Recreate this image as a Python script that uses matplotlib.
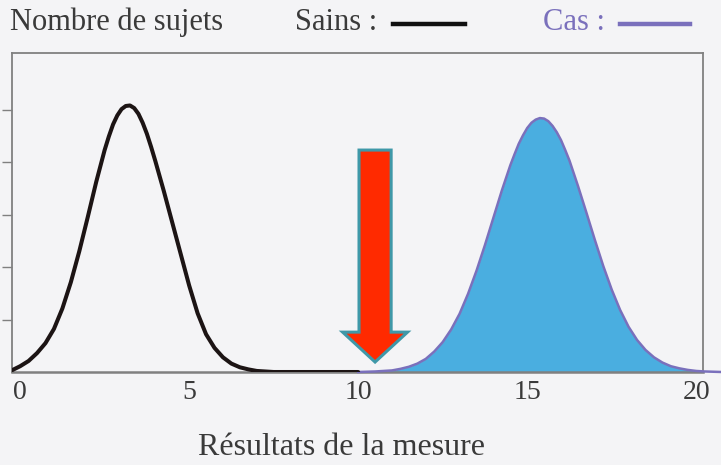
import matplotlib
matplotlib.use("Agg")
import matplotlib.pyplot as plt
from matplotlib.lines import Line2D
from matplotlib.patches import FancyArrow

# healthy subjects ("Sains") curve
sains_x = [-0.25, 0.0, 0.25, 0.5, 0.75, 1.0, 1.25, 1.5, 1.75, 2.0, 2.25, 2.5, 2.625, 2.75,
           2.875, 3.0, 3.125, 3.25, 3.375, 3.5, 3.625, 3.75, 3.875, 4.0, 4.25, 4.5, 4.75,
           5.0, 5.25, 5.5, 5.75, 6.0, 6.25, 6.5, 6.75, 7.0, 7.5, 10.0]
sains_y = [0.03, 0.11, 0.21, 0.36, 0.55, 0.82, 1.21, 1.71, 2.30, 2.95, 3.62, 4.23, 4.49, 4.72,
           4.89, 5.01, 5.07, 5.08, 5.03, 4.92, 4.75, 4.54, 4.29, 4.02, 3.45, 2.85, 2.25,
           1.65, 1.12, 0.72, 0.46, 0.28, 0.16, 0.09, 0.05, 0.02, 0.0, 0.0]

# cases ("Cas") curve
cas_x = [10.0, 10.5, 11.0, 11.25, 11.5, 11.75, 12.0, 12.25, 12.5, 12.75, 13.0, 13.25,
         13.5, 13.75, 14.0, 14.25, 14.5, 14.625, 14.75, 14.875, 15.0, 15.125, 15.25,
         15.375, 15.5, 15.625, 15.75, 15.875, 16.0, 16.125, 16.25,
         16.5, 16.75, 17.0, 17.25, 17.5, 17.75, 18.0, 18.25, 18.5, 18.75, 19.0, 19.25,
         19.5, 19.75, 20.0, 20.25, 20.75]
cas_y = [0.0, 0.01, 0.03, 0.06, 0.10, 0.16, 0.25, 0.39, 0.57, 0.81, 1.11, 1.49,
         1.93, 2.42, 2.94, 3.46, 3.94, 4.15, 4.35, 4.51, 4.65, 4.75, 4.81,
         4.84, 4.83, 4.78, 4.69, 4.57, 4.42, 4.23, 4.03,
         3.55, 3.04, 2.52, 2.02, 1.57, 1.18, 0.86, 0.61, 0.42, 0.28, 0.18, 0.11,
         0.07, 0.04, 0.02, 0.01, 0.0]

x_ticks = [0, 5, 10, 15, 20]
y_ticks = [1, 2, 3, 4, 5]
seuil = 10.5  # threshold marked by the arrow

bg = "#f4f4f6"
grey = "#808080"
txt = "#3a3a3a"
purple = "#7a70bc"
serif = ["Liberation Serif", "DejaVu Serif"]

fig = plt.figure(figsize=(7.21, 4.65), dpi=100, facecolor=bg)
ax = fig.add_axes([12 / 721, 93 / 465, 691 / 721, 319 / 465], facecolor=bg)
ax.set_xlim(-0.24, 20.2)
ax.set_ylim(0, 6.08)

ax.fill_between(cas_x, cas_y, 0, color="#4aaee0", lw=0, zorder=2)
ax.plot(cas_x, cas_y, color=purple, lw=1.8, zorder=3, clip_on=False,
        solid_joinstyle="round")
ax.plot(sains_x, sains_y, color="#1c1414", lw=2.9, zorder=4,
        solid_capstyle="round", solid_joinstyle="round")

arr = FancyArrow(seuil, 4.23, 0, -4.04, width=0.95, head_width=1.92, head_length=0.57,
                 length_includes_head=True, facecolor="#ff2a00", edgecolor="#3f98a8",
                 lw=2.2, zorder=6)
ax.add_patch(arr)

for s in ax.spines.values():
    s.set_color(grey)
    s.set_linewidth(1.3)
ax.spines["bottom"].set_linewidth(1.8)

ax.set_xticks(x_ticks)
ax.set_xticklabels([str(t) for t in x_ticks], family=serif, fontsize=20, color=txt)
ax.tick_params(axis="x", length=0, pad=6)
ax.set_yticks(y_ticks)
ax.set_yticklabels([])
ax.tick_params(axis="y", direction="out", length=7, color=grey, width=1)

fig.text(341 / 721, 1 - 447 / 465, "Résultats de la mesure", family=serif,
         fontsize=23, color=txt, ha="center", va="center")

# header with legend
hy = 1 - 22 / 465
fig.text(10 / 721, hy, "Nombre de sujets", family=serif, fontsize=22, color=txt,
         ha="left", va="center")
fig.text(295 / 721, hy, "Sains :", family=serif, fontsize=22, color=txt,
         ha="left", va="center")
fig.add_artist(Line2D([393 / 721, 465 / 721], [1 - 24 / 465] * 2, color="#111111",
                      lw=3.2, transform=fig.transFigure))
fig.text(543 / 721, hy, "Cas :", family=serif, fontsize=22, color=purple,
         ha="left", va="center")
fig.add_artist(Line2D([620 / 721, 690 / 721], [1 - 24 / 465] * 2, color=purple,
                      lw=3.2, transform=fig.transFigure))

fig.savefig("out.png", dpi=100, facecolor=bg)
